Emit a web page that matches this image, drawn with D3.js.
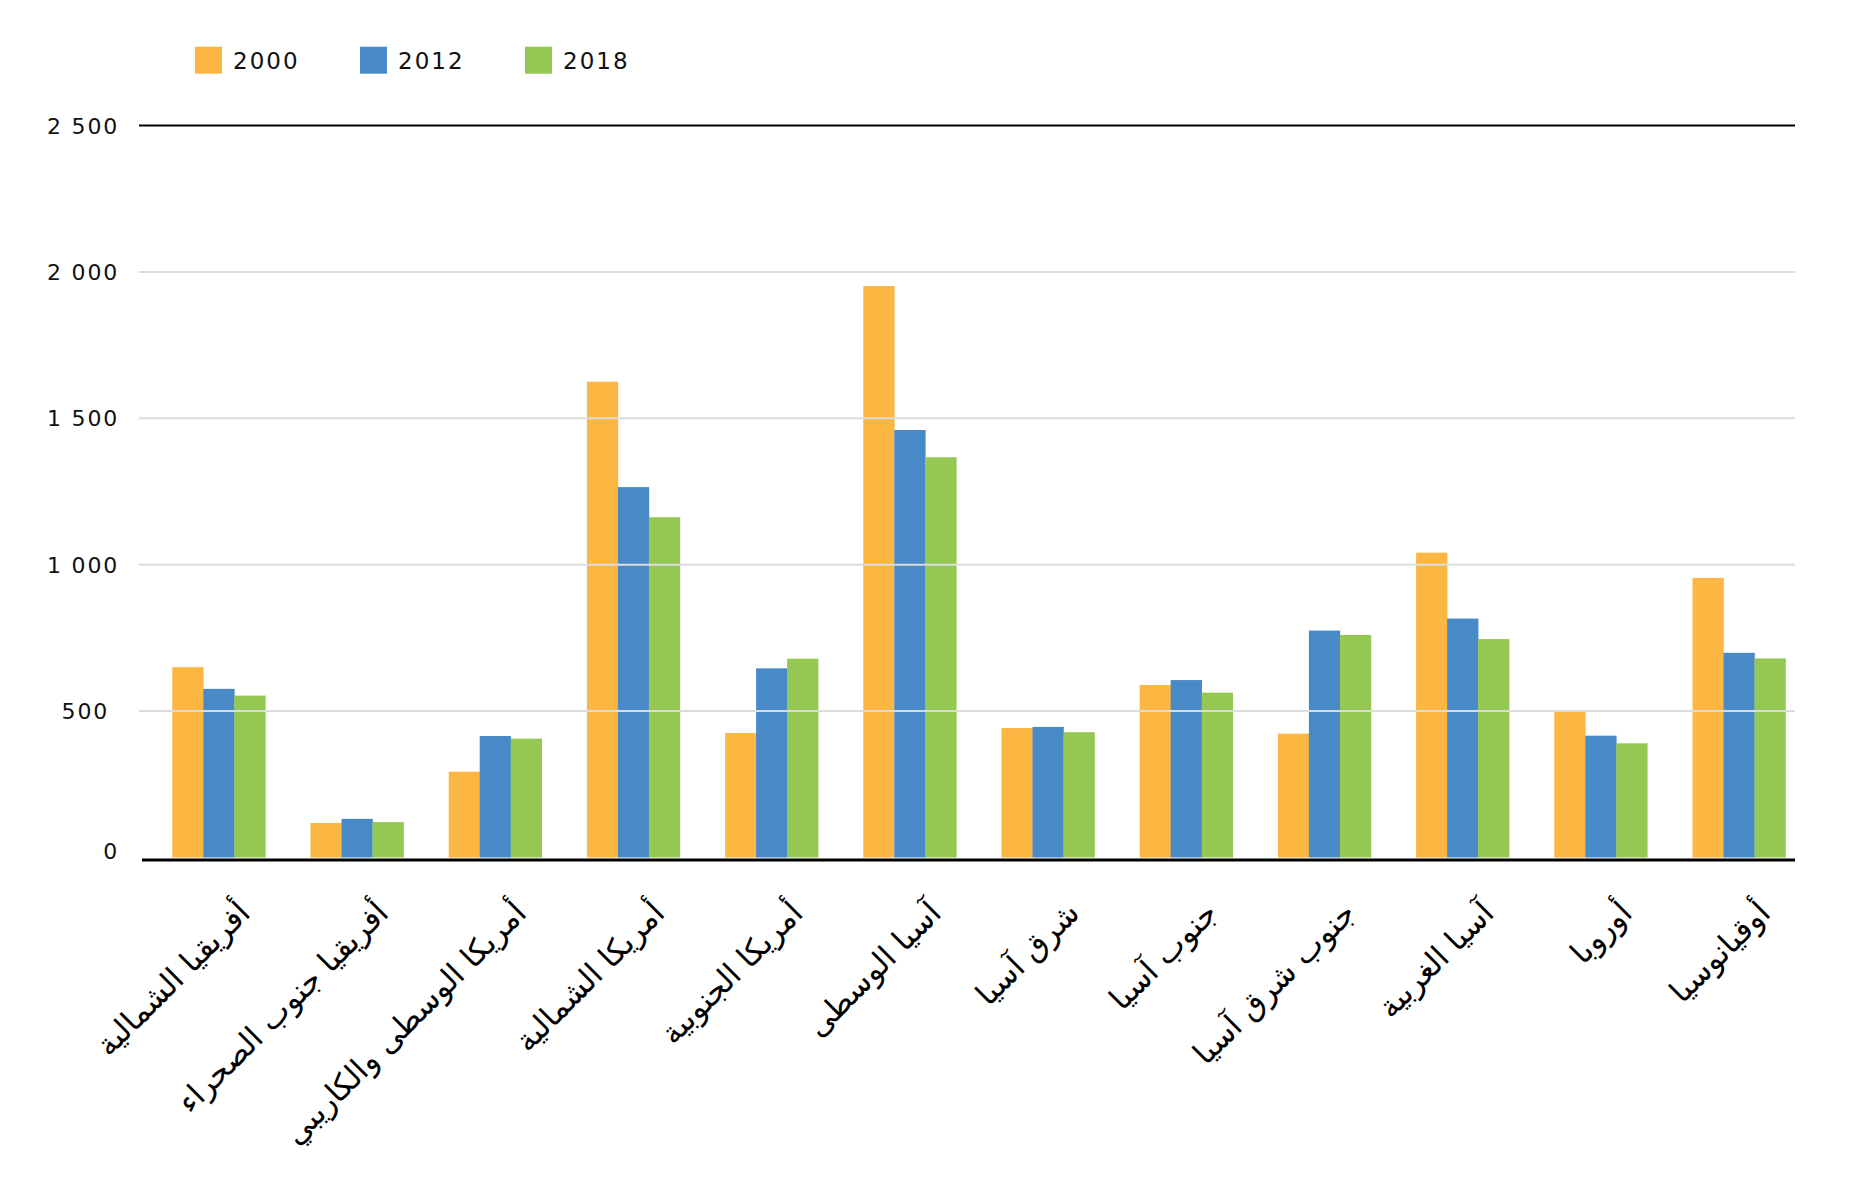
<!DOCTYPE html>
<html>
<head>
<meta charset="utf-8">
<script src="https://cdn.jsdelivr.net/npm/d3@7"></script>
<style>
  html, body { margin: 0; padding: 0; background: #ffffff; }
  svg { display: block; }
</style>
</head>
<body>
<svg id="chart" width="1857" height="1193"></svg>
<script>
const categories = [
  "أفريقيا الشمالية",
  "أفريقيا جنوب الصحراء",
  "أمريكا الوسطى والكاريبي",
  "أمريكا الشمالية",
  "أمريكا الجنوبية",
  "آسيا الوسطى",
  "شرق آسيا",
  "جنوب آسيا",
  "جنوب شرق آسيا",
  "آسيا الغربية",
  "أوروبا",
  "أوقيانوسيا"
];
const seriesNames = ["2000", "2012", "2018"];
const values2000 = [650, 118, 293, 1625, 425, 1952, 442, 589, 423, 1041, 497, 955];
const values2012 = [576, 132, 415, 1265, 646, 1460, 446, 606, 775, 816, 416, 699];
const values2018 = [553, 121, 406, 1162, 679, 1367, 428, 563, 760, 746, 390, 680];
const seriesColors = ["#FBB741", "#4889C8", "#95C853"];
const yTickValues = [0, 500, 1000, 1500, 2000, 2500];
const yTickLabels = ["0", "500", "1 000", "1 500", "2 000", "2 500"];

const seriesValues = [values2000, values2012, values2018];
const svg = d3.select("#chart");

const gridLeft = 139, gridRight = 1795;
const x0 = d3.scaleBand().domain(categories).range([149.7, 1808.1])
  .paddingInner(0.327).paddingOuter(0.1635);
const x1 = d3.scaleBand().domain(seriesNames).range([0, x0.bandwidth()]).padding(0);
const y = d3.scaleLinear().domain([0, 2500]).range([857.5, 125.5]);
const color = d3.scaleOrdinal().domain(seriesNames).range(seriesColors);

// bars
const groups = svg.append("g").selectAll("g")
  .data(categories)
  .join("g")
  .attr("transform", d => `translate(${x0(d)},0)`);

groups.selectAll("rect")
  .data((d, i) => seriesNames.map((s, j) => ({ s, v: seriesValues[j][i] })))
  .join("rect")
  .attr("x", d => x1(d.s))
  .attr("width", x1.bandwidth() + 0.3)
  .attr("y", d => y(d.v))
  .attr("height", d => y(0) - y(d.v))
  .attr("fill", d => color(d.s));

// gridlines (drawn over bars, as in the reference)
const gridG = svg.append("g");
yTickValues.forEach((v, i) => {
  if (v === 0) return;
  gridG.append("line")
    .attr("x1", gridLeft).attr("x2", gridRight)
    .attr("y1", y(v)).attr("y2", y(v))
    .attr("stroke", v === 2500 ? "#000000" : "#dcdcdc")
    .attr("stroke-width", 2);
});

// x axis baseline
svg.append("line")
  .attr("x1", 142).attr("x2", gridRight)
  .attr("y1", y(0) + 2.5).attr("y2", y(0) + 2.5)
  .attr("stroke", "#000000")
  .attr("stroke-width", 3);

// y tick labels
const yLab = svg.append("g")
  .attr("font-family", "'DejaVu Sans', sans-serif")
  .attr("font-size", 22)
  .attr("letter-spacing", 1.8)
  .attr("fill", "#111111");
yTickValues.forEach((v, i) => {
  const lab = yTickLabels[i];
  let xr = 119;
  if (lab.length === 3) xr = 109;
  let yy = y(v) + 8;
  if (v === 0) yy = y(v) + 1;
  yLab.append("text")
    .attr("x", xr)
    .attr("y", yy)
    .attr("text-anchor", "end")
    .text(lab);
});

// x category labels (rotated)
const xLab = svg.append("g")
  .attr("font-family", "'DejaVu Sans', sans-serif")
  .attr("font-size", 31)
  .attr("fill", "#000000");
categories.forEach(c => {
  const cx = x0(c) + x0.bandwidth() / 2 + 33;
  const cy = 915;
  xLab.append("text")
    .attr("transform", `translate(${cx},${cy}) rotate(-45)`)
    .attr("text-anchor", "end")
    .text(c);
});

// legend
const legend = svg.append("g")
  .attr("font-family", "'DejaVu Sans', sans-serif")
  .attr("font-size", 23)
  .attr("letter-spacing", 2)
  .attr("fill", "#111111");
seriesNames.forEach((s, i) => {
  const lx = 195 + i * 165;
  legend.append("rect")
    .attr("x", lx).attr("y", 46.7)
    .attr("width", 27).attr("height", 27)
    .attr("fill", color(s));
  legend.append("text")
    .attr("x", lx + 38).attr("y", 69.3)
    .text(s);
});
</script>
</body>
</html>
